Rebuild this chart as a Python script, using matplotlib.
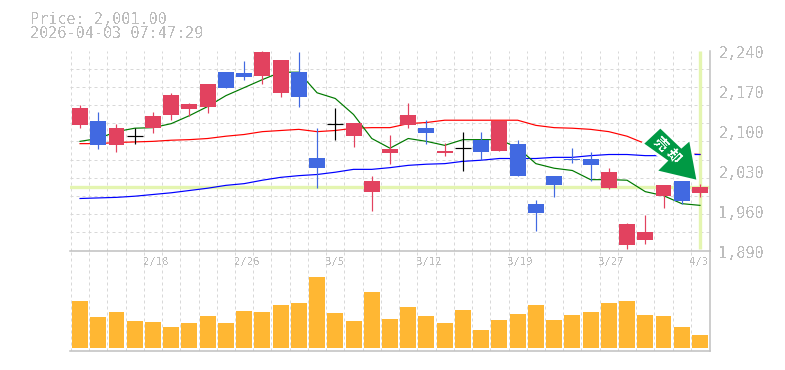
import numpy as np
import matplotlib
matplotlib.use("Agg")
import matplotlib.pyplot as plt
from matplotlib.patches import Polygon, Rectangle
from matplotlib.transforms import Affine2D, ScaledTranslation

# ----- DATA -----

open_p = [2109, 2116, 2074, 2090, 2104, 2128, 2137, 2142, 2203, 2200, 2195, 2165,
          2202, 2051, 2111, 2090, 1993, 2060, 2109, 2104, 2060, 2069, 2083, 2065,
          2077, 1972, 2021, 2051, 2051, 1999, 1899, 1908, 1986, 2011, 1990]
high_p = [2144, 2132, 2112, 2104, 2133, 2165, 2149, 2182, 2203, 2221, 2240, 2223,
          2238, 2105, 2139, 2114, 2020, 2093, 2149, 2119, 2079, 2098, 2098, 2116,
          2083, 1978, 2021, 2069, 2062, 2035, 1939, 1953, 2004, 2011, 2006]
low_p = [2104, 2067, 2063, 2076, 2095, 2119, 2125, 2130, 2174, 2188, 2182, 2158,
         2142, 2000, 2083, 2072, 1960, 2041, 2105, 2076, 2056, 2030, 2049, 2065,
         2020, 1925, 1983, 2044, 2011, 1997, 1892, 1901, 1965, 1971, 1983]
close_p = [2139, 2074, 2105, 2090, 2126, 2163, 2147, 2182, 2174, 2193, 2237, 2223,
           2158, 2035, 2111, 2114, 2011, 2067, 2128, 2095, 2065, 2069, 2063, 2116,
           2020, 1955, 2004, 2048, 2039, 2027, 1937, 1922, 2004, 1976, 2001]

ma_short = [2081, 2086, 2098, 2104, 2105, 2112, 2126, 2142, 2161, 2175, 2189, 2202,
            2202, 2166, 2156, 2128, 2086, 2069, 2086, 2081, 2074, 2084, 2084, 2084,
            2070, 2042, 2034, 2030, 2014, 2014, 2013, 1993, 1986, 1972, 1969]
ma_mid = [2077, 2077, 2079, 2080, 2081, 2083, 2084, 2086, 2090, 2093, 2098, 2100,
          2102, 2098, 2100, 2104, 2105, 2105, 2112, 2114, 2118, 2118, 2118, 2118,
          2118, 2109, 2105, 2104, 2102, 2098, 2090, 2077, 2067, 2060, 2058]
ma_long = [1981, 1982, 1983, 1985, 1988, 1991, 1995, 1999, 2004, 2007, 2013, 2018,
           2021, 2023, 2027, 2032, 2032, 2035, 2039, 2041, 2042, 2046, 2048, 2051,
           2051, 2051, 2053, 2053, 2056, 2058, 2058, 2056, 2056, 2058, 2058]

volume = [47, 31, 36, 27, 26, 21, 25, 32, 25, 37, 36, 43,
          45, 71, 35, 27, 56, 29, 41, 32, 25, 38, 18, 28,
          34, 43, 28, 33, 36, 45, 47, 33, 32, 21, 13]

date_pos = [4, 9, 14, 19, 24, 29, 34]
date_labels = ["2/18", "2/26", "3/5", "3/12", "3/19", "3/27", "4/3"]
price_ticks = [2240, 2170, 2100, 2030, 1960, 1890]
price_tick_labels = ["2,240", "2,170", "2,100", "2,030", "1,960", "1,890"]
last_price = 2001

# ----- STYLE -----

W, H = 785, 370
RED = "#e2425f"
BLUE = "#4169e1"
ORANGE = "#ffb733"
GRID = "#d8d8d8"
BORDER = "#c0c0c0"
TEXT = "#bdbdbd"
HILITE = "#e4f5b0"
ARROW = "#009944"
PX = 0.72  # one pixel in points at dpi 100
DASH = (0, (3, 3))

plt.rcParams["font.family"] = ["DejaVu Sans Mono"]
plt.rcParams["text.antialiased"] = False

fig = plt.figure(figsize=(W / 100, H / 100), dpi=100, facecolor="white")


def panel(x0, y0, x1, y1):
    """Axes from image pixel corners (y counted from the top)"""
    return fig.add_axes([x0 / W, 1 - y1 / H, (x1 - x0) / W, (y1 - y0) / H])


ax = panel(70, 50.5, 710, 250.5)
ax_vol = panel(70, 250.5, 710, 350.5)

x = np.arange(len(open_p))
xlim = (-0.55, 34.55)
bar_w = 0.877

# ----- PRICE PANEL -----

ax.set_xlim(*xlim)
ax.set_ylim(1890, 2240)
ax.set_axisbelow(True)
ax.set_xticks(x - 0.5)
ax.set_yticks(price_ticks)
ax.set_yticklabels(price_tick_labels, fontsize=11, color=TEXT)
ax.set_yticks(np.linspace(1890, 2240, 12), minor=True)
ax.yaxis.tick_right()
ax.tick_params(axis="y", which="major", length=0, pad=6.2)
ax.tick_params(axis="both", which="minor", length=0)
ax.tick_params(axis="x", length=0, labelbottom=False)
ax.grid(True, axis="x", color=GRID, lw=PX, linestyle=DASH)
ax.grid(True, axis="y", which="minor", color=GRID, lw=PX, linestyle=DASH)
for side in ["top", "left", "bottom"]:
    ax.spines[side].set_visible(False)
ax.spines["right"].set_color(BORDER)
ax.spines["right"].set_linewidth(1.1)

# Tick labels sit a little below their price in the original
label_shift = ScaledTranslation(0, -2 / 100, fig.dpi_scale_trans)
for lab in ax.get_yticklabels():
    lab.set_transform(lab.get_transform() + label_shift)

# Last price markers
ax.axhline(last_price, color=HILITE, lw=2.4, zorder=1)
ax.plot([x[-1], x[-1]], [1893, 2240], color=HILITE, lw=2.4, zorder=1, solid_capstyle="butt")

# Moving averages sit under the candles
ax.plot(x, ma_mid, color="#ff0000", lw=PX * 1.2, zorder=2)
ax.plot(x, ma_long, color="#0000ff", lw=PX * 1.2, zorder=2)
ax.plot(x, ma_short, color="#007a00", lw=PX * 1.2, zorder=2)

# Candles
for i in x:
    o, h, l, c = open_p[i], high_p[i], low_p[i], close_p[i]
    if c == o:
        ax.plot([i, i], [l, h], color="black", lw=PX * 1.2, zorder=3, solid_capstyle="butt")
        ax.plot([i - bar_w / 2, i + bar_w / 2], [c, c], color="black", lw=PX * 1.2, zorder=3,
                solid_capstyle="butt")
        continue
    col = RED if c > o else BLUE
    ax.plot([i, i], [l, h], color=col, lw=PX * 1.2, zorder=3, solid_capstyle="butt")
    ax.add_patch(Rectangle((i - bar_w / 2, min(o, c)), bar_w, abs(c - o),
                           facecolor=col, edgecolor="none", zorder=3))

# Signal arrow, offsets in pixels from the tip (y up)
tip = ax.transData.transform((33.8, high_p[33] + 3))
arrow_shape = [(0, 0), (-7, 38), (-15, 31), (-36, 51), (-52, 36), (-28, 19), (-38, 9)]
to_tip = Affine2D().translate(*tip)
ax.add_patch(Polygon(arrow_shape, closed=True, transform=to_tip, facecolor=ARROW,
                     edgecolor="white", lw=4, joinstyle="round", zorder=5, clip_on=False))
ax.add_patch(Polygon(arrow_shape, closed=True, transform=to_tip, facecolor=ARROW,
                     edgecolor="none", zorder=6, clip_on=False))
for ch, dx, dy in [("売", -36.5, 35), ("却", -23.5, 23)]:
    ax.text(tip[0] + dx, tip[1] + dy, ch, transform=None, family=["Noto Sans CJK JP"],
            fontsize=10, fontweight="bold", color="white", rotation=-45,
            ha="center", va="center", rotation_mode="anchor", zorder=7)

# ----- VOLUME PANEL -----

ax_vol.set_xlim(*xlim)
ax_vol.set_ylim(-2.5, 97.5)
ax_vol.set_axisbelow(True)
ax_vol.set_xticks(x - 0.5)
ax_vol.set_yticks([])
ax_vol.tick_params(axis="x", length=0, labelbottom=False)
ax_vol.grid(True, axis="x", color=GRID, lw=PX, linestyle=DASH)
ax_vol.bar(x, volume, width=bar_w, color=ORANGE, zorder=3)
ax_vol.spines["left"].set_visible(False)
for side in ["top", "right", "bottom"]:
    ax_vol.spines[side].set_color(BORDER)
    ax_vol.spines[side].set_linewidth(1.1)

for pos, label in zip(date_pos, date_labels):
    ax_vol.annotate(label, xy=(pos - 0.5, 1), xycoords=ax_vol.get_xaxis_transform(),
                    xytext=(-0.7, -8), textcoords="offset points", fontsize=7.6,
                    color=TEXT, ha="left", va="center")

# ----- HEADER -----

fig.text(30 / W, 1 - 19 / H, "Price: 2,001.00", fontsize=11, color=TEXT, va="center")
fig.text(30 / W, 1 - 34 / H, "2026-04-03 07:47:29", fontsize=11, color=TEXT, va="center")

fig.savefig("out.png", dpi=100)
